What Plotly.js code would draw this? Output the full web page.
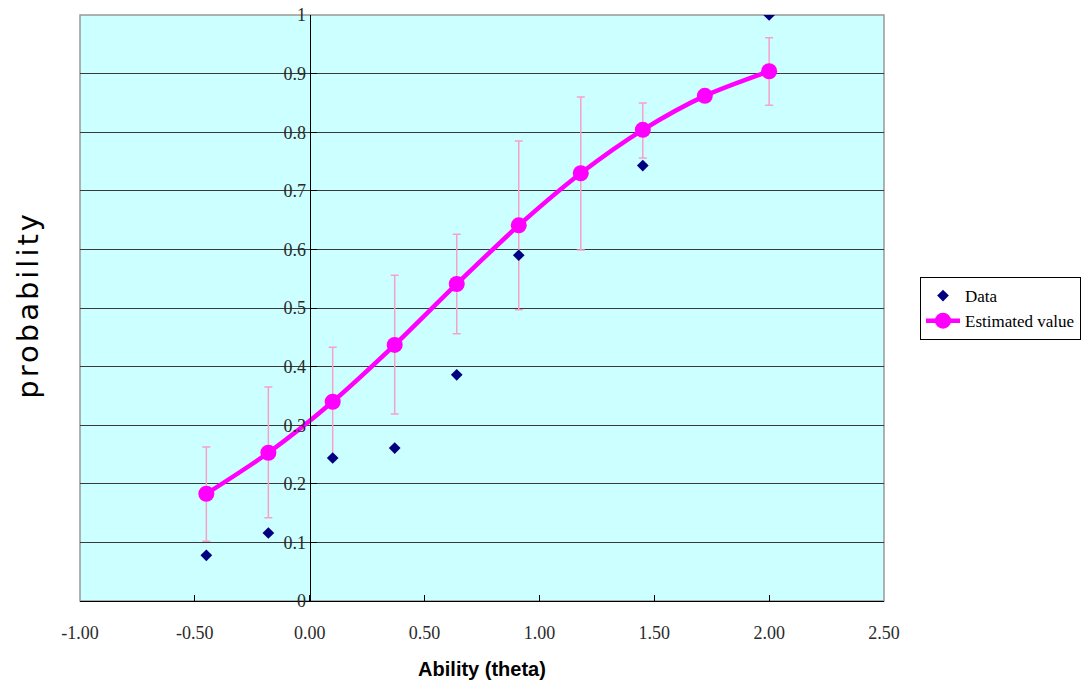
<!DOCTYPE html>
<html>
<head>
<meta charset="utf-8">
<script src="https://cdn.plot.ly/plotly-3.0.1.min.js"></script>
<style>html,body{margin:0;padding:0;background:#fff;}#chart{width:1081px;height:686px;}</style>
</head>
<body>
<div id="chart"></div>
<script>
// Ability (theta) values
const thetaEst = [-0.45, -0.18, 0.10, 0.37, 0.64, 0.91, 1.18, 1.45, 1.72, 2.00];
const estimated = [0.183, 0.253, 0.340, 0.437, 0.541, 0.641, 0.730, 0.804, 0.862, 0.904];
const upperBound = [0.263, 0.365, 0.433, 0.556, 0.626, 0.785, 0.860, 0.850, null, 0.961];
const lowerBound = [0.102, 0.142, 0.246, 0.319, 0.456, 0.497, 0.599, 0.756, null, 0.846];

const thetaData = [-0.45, -0.18, 0.10, 0.37, 0.64, 0.91, 1.45, 2.00];
const observed = [0.078, 0.116, 0.244, 0.261, 0.386, 0.590, 0.743, 1.000];

const xTicks = [-1.0, -0.5, 0.0, 0.5, 1.0, 1.5, 2.0, 2.5];
const xTickLabels = ['-1.00', '-0.50', '0.00', '0.50', '1.00', '1.50', '2.00', '2.50'];
const yTicks = [0, 0.1, 0.2, 0.3, 0.4, 0.5, 0.6, 0.7, 0.8, 0.9, 1];

const errPlus = estimated.map((v, i) => upperBound[i] == null ? NaN : upperBound[i] - v);
const errMinus = estimated.map((v, i) => lowerBound[i] == null ? NaN : v - lowerBound[i]);

const serif = 'Liberation Serif, Times New Roman, serif';

const traces = [
  {
    x: thetaEst, y: estimated, type: 'scatter', mode: 'markers',
    marker: {size: 1, opacity: 0},
    showlegend: false, hoverinfo: 'skip',
    error_y: {type: 'data', symmetric: false, array: errPlus, arrayminus: errMinus,
      color: '#F7A1C9', thickness: 1.5, width: 4}
  },
  {
    x: thetaData, y: observed, type: 'scatter', mode: 'markers', name: 'Data',
    marker: {symbol: 'diamond', size: 9, color: '#000080'}
  },
  {
    x: thetaEst, y: estimated, type: 'scatter', mode: 'lines+markers', name: 'Estimated value',
    line: {color: '#FF00FF', width: 4.5, shape: 'spline', smoothing: 0.8},
    marker: {symbol: 'circle', size: 16, color: '#FF00FF'}
  }
];

const layout = {
  width: 1081, height: 686,
  margin: {l: 80, r: 197, t: 15, b: 85, autoexpand: false},
  paper_bgcolor: '#ffffff',
  plot_bgcolor: '#CCFFFF',
  showlegend: true,
  legend: {
    xref: 'container', yref: 'container',
    x: 920 / 1081, y: 1 - 277 / 686, xanchor: 'left', yanchor: 'top',
    bgcolor: '#ffffff', bordercolor: '#000000', borderwidth: 1,
    font: {family: serif, size: 17, color: '#000'},
    tracegroupgap: 4, itemwidth: 34
  },
  xaxis: {
    range: [-1, 2.5], tickvals: xTicks, ticktext: xTickLabels,
    showgrid: false, zeroline: false,
    showline: true, linecolor: '#000', linewidth: 1,
    ticks: 'inside', ticklen: 6, tickcolor: '#000',
    ticklabelstandoff: 15,
    tickfont: {family: serif, size: 18, color: '#2a2a2a'},
    title: {text: '<b>Ability (theta)</b>', standoff: 20,
      font: {family: 'Liberation Sans Narrow, Arial Narrow, Liberation Sans, sans-serif', size: 20, color: '#000'}}
  },
  yaxis: {
    range: [0, 1], tickvals: yTicks,
    anchor: 'free', position: 1 / 3.5, side: 'left',
    showgrid: true, gridcolor: '#3a3a3a', gridwidth: 1,
    zeroline: false,
    showline: true, linecolor: '#000', linewidth: 1,
    ticks: 'inside', ticklen: 6, tickcolor: '#000',
    tickfont: {family: serif, size: 18, color: '#2a2a2a'}
  },
  shapes: [
    {type: 'rect', xref: 'paper', yref: 'paper', x0: 0, x1: 1, y0: 0, y1: 1,
      line: {color: '#999999', width: 1.5}, layer: 'below'}
  ],
  annotations: [
    {text: 'probability', xref: 'paper', yref: 'paper', x: -0.0645, y: 0.505,
      xanchor: 'center', yanchor: 'middle', textangle: -90, showarrow: false,
      font: {family: 'DejaVu Sans, sans-serif', size: 29, color: '#000'}}
  ]
};

Plotly.newPlot('chart', traces, layout, {displayModeBar: false, staticPlot: true}).then(function (gd) {
  const t = gd.querySelectorAll('.annotation-text');
  t.forEach(function (el) { el.style.letterSpacing = '3px'; });
});
</script>
</body>
</html>
